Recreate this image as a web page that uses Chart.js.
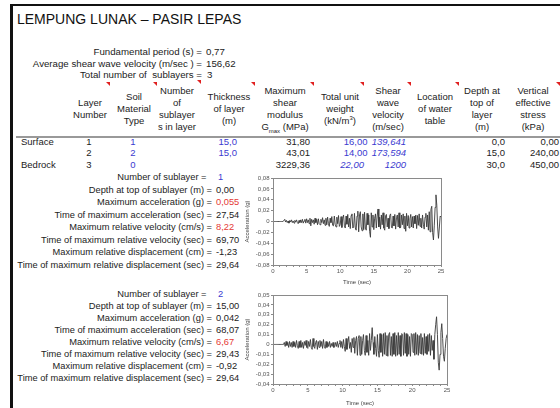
<!DOCTYPE html>
<html>
<head>
<meta charset="utf-8">
<script src="https://cdn.jsdelivr.net/npm/chart.js@4.4.1/dist/chart.umd.min.js"></script>
<style>
  html, body { margin: 0; padding: 0; background: #fff; }
  #sheet { position: relative; width: 560px; height: 408px; overflow: hidden; background: #fff;
           font-family: "Liberation Sans", Arial, sans-serif; color: #222; }
  .t { position: absolute; font-size: 9.5px; line-height: 12px; white-space: nowrap; }
  .info { font-size: 9.7px; }
  .sub { font-size: 9.3px; }
  .c { text-align: center; width: 100px; }
  .title { position: absolute; font-size: 14px; line-height: 16px; white-space: nowrap; color: #111; }
  .blue { color: #3a3ad0; }
  .red { color: #e53935; }
  .it { font-style: italic; }
  .note { position: absolute; width: 0; height: 0; border-top: 4px solid #e02020; border-left: 4px solid transparent; }
  .rule { position: absolute; background: #111; }
  sub, sup { font-size: 6px; line-height: 0; }
  canvas { position: absolute; }
</style>
</head>
<body>
<div id="sheet">
  <div class="rule" style="left:10px;top:4px;width:550px;height:2px"></div>
  <div class="rule" style="left:10px;top:4px;width:3px;height:404px"></div>
  <div class="title" style="left:17px;top:11px">LEMPUNG LUNAK – PASIR LEPAS</div>

  <div class="t info" style="right:358px;top:46px">Fundamental period (s) =</div>
  <div class="t info" style="left:206px;top:46px">0,77</div>
  <div class="t info" style="right:358px;top:58px">Average shear wave velocity (m/sec ) =</div>
  <div class="t info" style="left:206px;top:58px">156,62</div>
  <div class="t info" style="right:358px;top:68.5px">Total number of&nbsp; sublayers =</div>
  <div class="t info" style="left:207px;top:68.5px">3</div>

  <!-- layer table header -->
  <div class="t c" style="left:40px;top:97px">Layer<br>Number</div>
  <div class="t c" style="left:84px;top:91px">Soil<br>Material<br>Type</div>
  <div class="t c" style="left:127px;top:85px">Number<br>of<br>sublayer<br>s in layer</div>
  <div class="t c" style="left:179px;top:91px">Thickness<br>of layer<br>(m)</div>
  <div class="t c" style="left:235px;top:85px">Maximum<br>shear<br>modulus<br>G<sub>max</sub> (MPa)</div>
  <div class="t c" style="left:290px;top:91px">Total unit<br>weight<br>(kN/m<sup>3</sup>)</div>
  <div class="t c" style="left:338px;top:85px">Shear<br>wave<br>velocity<br>(m/sec)</div>
  <div class="t c" style="left:385px;top:91px">Location<br>of water<br>table</div>
  <div class="t c" style="left:432px;top:85px">Depth at<br>top of<br>layer<br>(m)</div>
  <div class="t c" style="left:483px;top:85px">Vertical<br>effective<br>stress<br>(kPa)</div>

  <div class="note" style="left:106px;top:82px"></div>
  <div class="note" style="left:153px;top:82px"></div>
  <div class="note" style="left:197px;top:80px"></div>
  <div class="note" style="left:251px;top:82px"></div>
  <div class="note" style="left:310px;top:82px"></div>
  <div class="note" style="left:360px;top:82px"></div>
  <div class="note" style="left:407px;top:82px"></div>
  <div class="note" style="left:455px;top:82px"></div>
  <div class="note" style="left:556px;top:82px"></div>

  <div style="position:absolute;left:16px;top:135.5px;width:544px;height:2px;background:#999"></div>

  <!-- layer rows -->
  <div class="t" style="left:21px;top:135.7px">Surface</div>
  <div class="t c" style="left:39px;top:135.7px">1</div>
  <div class="t c blue" style="left:83px;top:135.7px">1</div>
  <div class="t blue" style="right:323px;top:135.7px">15,0</div>
  <div class="t" style="right:250px;top:135.7px">31,80</div>
  <div class="t blue" style="right:192.5px;top:135.7px">16,00</div>
  <div class="t blue it" style="right:154px;top:135.7px">139,641</div>
  <div class="t" style="right:55px;top:135.7px">0,0</div>
  <div class="t" style="right:1px;top:135.7px">0,00</div>

  <div class="t c" style="left:39px;top:147.3px">2</div>
  <div class="t c blue" style="left:83px;top:147.3px">2</div>
  <div class="t blue" style="right:323px;top:147.3px">15,0</div>
  <div class="t" style="right:250px;top:147.3px">43,01</div>
  <div class="t blue" style="right:192.5px;top:147.3px">14,00</div>
  <div class="t blue it" style="right:154px;top:147.3px">173,594</div>
  <div class="t" style="right:55px;top:147.3px">15,0</div>
  <div class="t" style="right:1px;top:147.3px">240,00</div>

  <div class="t" style="left:21px;top:159px">Bedrock</div>
  <div class="t c" style="left:39px;top:159px">3</div>
  <div class="t c blue" style="left:83px;top:159px">0</div>
  <div class="t" style="right:250px;top:159px">3229,36</div>
  <div class="t blue it" style="right:196px;top:159px">22,00</div>
  <div class="t blue it" style="right:154px;top:159px">1200</div>
  <div class="t" style="right:55px;top:159px">30,0</div>
  <div class="t" style="right:1px;top:159px">450,00</div>

  <!-- sublayer 1 summary -->
  <div class="t sub" style="right:353.5px;top:171px">Number of sublayer =</div>
  <div class="t sub blue" style="left:218px;top:171px">1</div>
  <div class="t sub" style="right:348px;top:183.5px">Depth at top of sublayer (m) =</div>
  <div class="t sub" style="left:216px;top:183.5px">0,00</div>
  <div class="t sub" style="right:348px;top:196px">Maximum acceleration (g) =</div>
  <div class="t sub red" style="left:216px;top:196px">0,055</div>
  <div class="t sub" style="right:348px;top:208.5px">Time of maximum acceleration (sec) =</div>
  <div class="t sub" style="left:216px;top:208.5px">27,54</div>
  <div class="t sub" style="right:348px;top:221px">Maximum relative velocity (cm/s) =</div>
  <div class="t sub red" style="left:216px;top:221px">8,22</div>
  <div class="t sub" style="right:348px;top:233.5px">Time of maximum relative velocity (sec) =</div>
  <div class="t sub" style="left:216px;top:233.5px">69,70</div>
  <div class="t sub" style="right:348px;top:246px">Maximum relative displacement (cm) =</div>
  <div class="t sub" style="left:216px;top:246px">-1,23</div>
  <div class="t sub" style="right:348px;top:258.5px">Time of maximum relative displacement (sec) =</div>
  <div class="t sub" style="left:216px;top:258.5px">29,64</div>

  <!-- sublayer 2 summary -->
  <div class="t sub" style="right:353.5px;top:287.5px">Number of sublayer =</div>
  <div class="t sub blue" style="left:218px;top:287.5px">2</div>
  <div class="t sub" style="right:348px;top:299.5px">Depth at top of sublayer (m) =</div>
  <div class="t sub" style="left:216px;top:299.5px">15,00</div>
  <div class="t sub" style="right:348px;top:311.5px">Maximum acceleration (g) =</div>
  <div class="t sub" style="left:216px;top:311.5px">0,042</div>
  <div class="t sub" style="right:348px;top:323.5px">Time of maximum acceleration (sec) =</div>
  <div class="t sub" style="left:216px;top:323.5px">68,07</div>
  <div class="t sub" style="right:348px;top:335.5px">Maximum relative velocity (cm/s) =</div>
  <div class="t sub red" style="left:216px;top:335.5px">6,67</div>
  <div class="t sub" style="right:348px;top:347.5px">Time of maximum relative velocity (sec) =</div>
  <div class="t sub" style="left:216px;top:347.5px">29,43</div>
  <div class="t sub" style="right:348px;top:359.5px">Maximum relative displacement (cm) =</div>
  <div class="t sub" style="left:216px;top:359.5px">-0,92</div>
  <div class="t sub" style="right:348px;top:371.5px">Time of maximum relative displacement (sec) =</div>
  <div class="t sub" style="left:216px;top:371.5px">29,64</div>

  <canvas id="accel1" width="210" height="118" style="left:240px;top:172px"></canvas>
  <canvas id="accel2" width="215" height="120" style="left:240px;top:288px"></canvas>
</div>

<script>
// Acceleration time histories (g), eight samples per second from 0 to 25 s.
const timeStep = 0.125;

const sublayer1Accel = [
  0, 0, 0, 0, 0, 0, 0, 0,
  0, 0, 0, 0, 0, 0, 0.004, -0.001,
  0.002, -0.002, 0.001, -0.003, 0.002, -0.001, 0.003, -0.002,
  0.001, -0.003, 0.002, -0.001, 0.003, -0.002, -0.004, 0.002,
  -0.002, 0.003, -0.002, 0.004, -0.003, 0.001, 0.004, -0.003,
  0.005, -0.002, 0.003, -0.004, 0.006, -0.008, 0.004, -0.002,
  0.003, -0.005, 0.006, -0.002, 0.004, -0.006, 0.005, -0.004,
  -0.006, 0.004, -0.002, 0.007, -0.004, 0.003, -0.007, 0.006,
  -0.006, 0.008, -0.004, -0.009, 0.006, -0.002, 0.009, -0.007,
  -0.008, 0.010, -0.005, -0.010, 0.008, -0.004, 0.011, -0.009,
  -0.006, 0.009, -0.011, 0.006, 0.012, -0.008, -0.012, 0.010,
  -0.005, 0.013, -0.010, 0.006, -0.013, 0.011, 0.014, -0.012,
  -0.010, 0.015, -0.012, -0.016, 0.010, 0.019, -0.019, 0.012,
  0.018, -0.010, -0.017, 0.014, -0.015, 0.017, -0.012, -0.016,
  0.015, -0.006, 0.012, -0.018, -0.029, 0.016, -0.010, 0.012,
  -0.015, 0.006, 0.014, -0.012, 0.010, 0.023, -0.010, 0.008,
  -0.014, 0.012, -0.006, 0.016, -0.012, -0.016, 0.010, 0.013,
  -0.010, 0.006, -0.013, 0.011, 0.014, -0.011, -0.012, 0.010,
  -0.008, 0.013, -0.014, 0.007, 0.012, -0.010, 0.016, -0.012,
  -0.011, 0.012, -0.006, 0.014, -0.013, 0.010, -0.018, 0.015,
  -0.008, 0.011, -0.012, 0.005, 0.013, -0.010, 0.009, -0.012,
  0.010, -0.004, 0.012, -0.013, 0.011, -0.007, 0.014, -0.009,
  0.006, -0.012, 0.012, -0.005, -0.014, 0.008, 0.015, -0.010,
  0.012, -0.016, 0.018, -0.019, 0.022, 0.028, -0.020, -0.034,
  -0.008, 0.026, 0.049, 0.030, -0.010, -0.031, -0.012, 0.010,
  0.008
];

const sublayer2Accel = [
  0, 0, 0, 0, 0, 0, 0, 0,
  0, 0, 0, 0, 0, 0.002, -0.002, 0.003,
  -0.001, 0.002, -0.003, 0.003, -0.002, 0.002, -0.003, 0.003,
  -0.002, 0.002, -0.003, 0.004, -0.001, -0.004, 0.003, -0.003,
  0.004, -0.003, 0.002, -0.004, 0.003, -0.001, 0.004, -0.003,
  -0.004, 0.003, -0.002, 0.005, -0.003, -0.005, 0.006, -0.002,
  -0.004, 0.002, 0.004, -0.005, 0.003, -0.003, 0.004, -0.002,
  0.003, -0.004, 0.005, -0.002, -0.004, 0.003, -0.003, 0.002,
  -0.002, 0.003, -0.003, 0.001, -0.002, 0.002, -0.003, -0.002,
  0.002, -0.002, 0.003, -0.003, 0.001, 0.004, -0.003, 0.003,
  -0.004, 0.005, -0.002, -0.007, 0.006, -0.005, 0.002, 0.008,
  -0.004, 0.002, -0.008, 0.006, -0.003, 0.007, -0.009, 0.004,
  0.008, -0.011, 0.006, 0.009, -0.011, 0.008, -0.010, 0.004,
  0.010, -0.006, -0.011, 0.009, -0.008, 0.004, -0.011, 0.011,
  -0.006, 0.004, 0.017, 0.002, -0.010, 0.008, -0.004, -0.012,
  0.010, -0.006, -0.013, 0.011, -0.008, 0.010, -0.012, 0.011,
  -0.010, 0.012, -0.011, 0.009, -0.012, 0.010, 0.012, -0.011,
  0.008, -0.012, 0.011, -0.010, 0.012, -0.012, 0.009, -0.011,
  0.012, -0.010, 0.009, -0.012, 0.011, 0.010, -0.011, 0.012,
  -0.009, 0.011, -0.012, 0.010, -0.010, 0.008, -0.012, 0.011,
  0.010, -0.008, 0.011, -0.011, 0.012, -0.010, 0.010, -0.011,
  0.009, -0.009, 0.011, -0.010, 0.007, -0.011, 0.011, -0.009,
  0.008, -0.010, 0.010, -0.007, 0.011, -0.011, 0.009, -0.006,
  0.004, -0.015, 0.010, 0.020, 0.028, 0.010, -0.018, -0.026,
  -0.010, 0.012, 0.021, 0.006, -0.012, -0.017, -0.004, 0.006,
  0.010
];

const timeTickLabels = [0, 5, 10, 15, 20, 25];
const sublayer1Ticks = [0.08, 0.06, 0.04, 0.02, 0, -0.02, -0.04, -0.06, -0.08];
const sublayer2Ticks = [0.05, 0.04, 0.03, 0.02, 0.01, 0, -0.01, -0.02, -0.03, -0.04];

function toPoints(values) {
  return values.map((v, i) => ({ x: i * timeStep, y: v }));
}

function commaNumber(v) {
  if (Math.abs(v) < 1e-9) return '0';
  return v.toFixed(2).replace('.', ',');
}

// draws the closed frame around the plot area
const plotFrame = {
  id: 'plotFrame',
  afterDraw(chart) {
    const { ctx, chartArea: a } = chart;
    ctx.save();
    ctx.strokeStyle = '#8a8a8a';
    ctx.lineWidth = 1;
    ctx.strokeRect(Math.round(a.left) + 0.5, Math.round(a.top) + 0.5,
                   Math.round(a.right - a.left), Math.round(a.bottom - a.top));
    ctx.restore();
  }
};

const axisFont = { family: '"Liberation Sans", Arial, sans-serif', size: 6 };

function accelChart(id, values, yTicks, opts) {
  return new Chart(document.getElementById(id), {
    type: 'line',
    data: {
      datasets: [{
        data: toPoints(values),
        borderColor: '#3a3a3a',
        borderWidth: 0.9,
        pointRadius: 0,
        tension: 0,
        fill: false
      }]
    },
    options: {
      responsive: false,
      animation: false,
      devicePixelRatio: 1,
      layout: { padding: { left: 0, top: opts.padTop, right: opts.padRight, bottom: 0 } },
      plugins: { legend: { display: false }, tooltip: { enabled: false } },
      scales: {
        x: {
          type: 'linear',
          min: 0,
          max: 25,
          afterFit(scale) { scale.height = opts.xHeight; },
          ticks: {
            stepSize: 1,
            autoSkip: false,
            maxRotation: 0,
            padding: 1,
            color: '#555',
            font: axisFont,
            callback: v => (timeTickLabels.includes(v) ? String(v) : '')
          },
          grid: { drawOnChartArea: false, tickLength: 2, color: '#8a8a8a' },
          border: { color: '#8a8a8a' },
          title: {
            display: true,
            text: 'Time (sec)',
            color: '#444',
            font: axisFont,
            padding: { top: 0, bottom: opts.xTitlePad }
          }
        },
        y: {
          min: yTicks[yTicks.length - 1],
          max: yTicks[0],
          afterFit(scale) { scale.width = 33; },
          afterBuildTicks(scale) { scale.ticks = yTicks.map(v => ({ value: v })); },
          ticks: {
            autoSkip: false,
            padding: 1.5,
            color: '#555',
            font: axisFont,
            callback: v => commaNumber(v)
          },
          grid: { drawOnChartArea: false, tickLength: 2, color: '#8a8a8a' },
          border: { color: '#8a8a8a' },
          title: {
            display: true,
            text: 'Acceleration (g)',
            color: '#444',
            font: axisFont,
            padding: { top: 4, bottom: 0 }
          }
        }
      }
    },
    plugins: [plotFrame]
  });
}

accelChart('accel1', sublayer1Accel, sublayer1Ticks, { padTop: 6, padRight: 9, xHeight: 25, xTitlePad: 4.4 });
accelChart('accel2', sublayer2Accel, sublayer2Ticks, { padTop: 7, padRight: 8, xHeight: 24, xTitlePad: 1.5 });
</script>
</body>
</html>
